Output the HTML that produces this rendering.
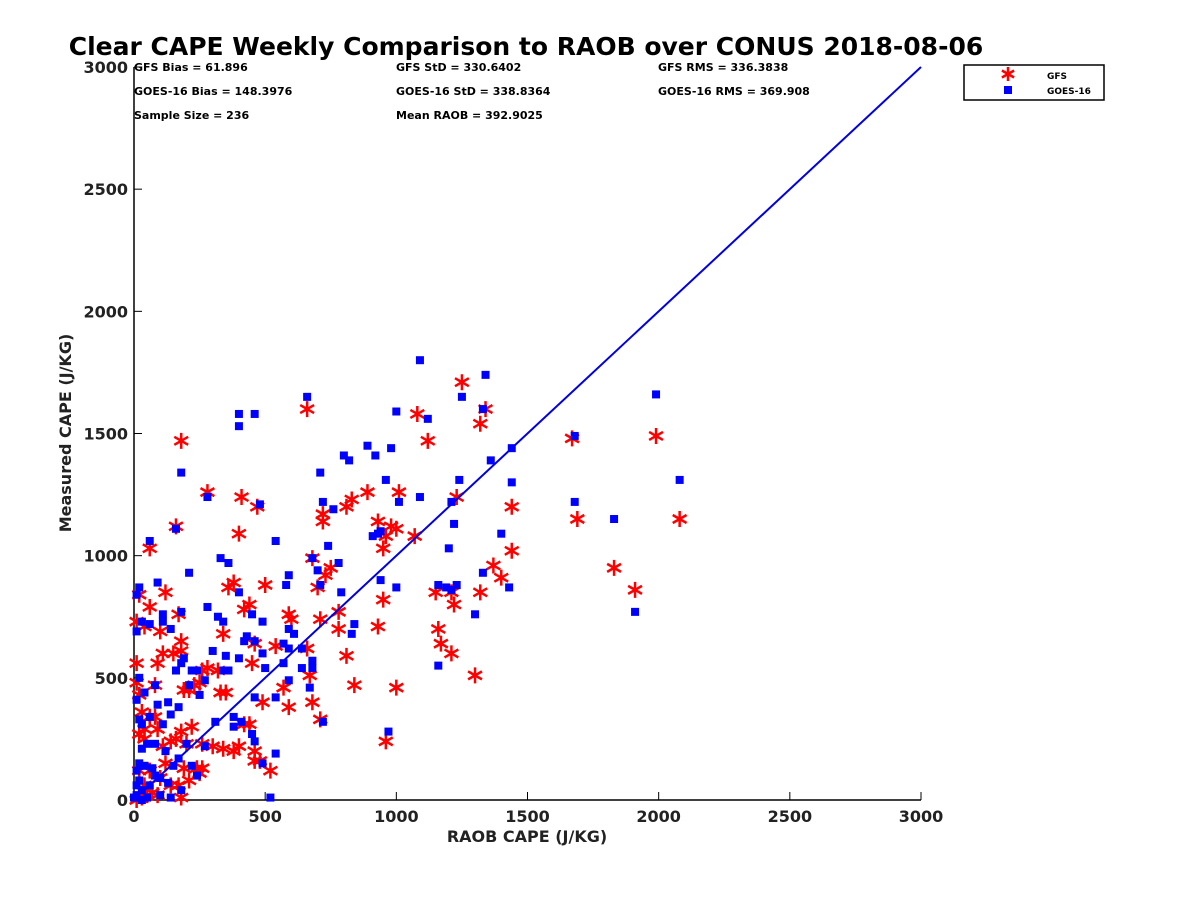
<!DOCTYPE html>
<html><head><meta charset="utf-8"><style>
body{margin:0;background:#fff;}
text{font-family:"DejaVu Sans","Liberation Sans",sans-serif;}
</style></head><body>
<svg id="chart" width="1200" height="900" xmlns="http://www.w3.org/2000/svg">
<rect width="1200" height="900" fill="#fff"/>
<text x="526" y="55" font-size="25" font-weight="bold" text-anchor="middle" fill="#000">Clear CAPE Weekly Comparison to RAOB over CONUS 2018-08-06</text>
<g font-size="11" font-weight="bold" fill="#000">
<text x="134" y="71">GFS Bias = 61.896</text>
<text x="396" y="71">GFS StD = 330.6402</text>
<text x="658" y="71">GFS RMS = 336.3838</text>
<text x="134" y="95">GOES-16 Bias = 148.3976</text>
<text x="396" y="95">GOES-16 StD = 338.8364</text>
<text x="658" y="95">GOES-16 RMS = 369.908</text>
<text x="134" y="119">Sample Size = 236</text>
<text x="396" y="119">Mean RAOB = 392.9025</text>
</g>
<g id="axes"></g>
<g id="marks"></g>
<g>
<rect x="964" y="65" width="140" height="35" fill="#fff" stroke="#000" stroke-width="1.5"/>
<g id="legstar"></g>
<rect x="1004" y="86" width="8" height="8" fill="#0000ff"/>
<text x="1047" y="79" font-size="9" font-weight="bold">GFS</text>
<text x="1047" y="94" font-size="9" font-weight="bold">GOES-16</text>
</g>
</svg>
<script>
const xTicks=[0,500,1000,1500,2000,2500,3000];
const yTicks=[0,500,1000,1500,2000,2500,3000];
const gfsX=[660,1250,1340,1320,1080,1120,180,1670,1990,2080,1690,280,410,470,160,60,890,1010,810,830,720,720,930,950,960,980,1000,1070,1230,1440,1440,1370,1400,1320,1150,1210,1220,1160,1170,1210,1300,1830,1910,930,950,1000,960,840,810,780,780,750,730,700,710,680,660,670,680,710,590,600,570,590,540,500,490,460,440,450,420,400,380,360,340,330,350,320,280,260,250,230,210,190,180,180,170,150,120,110,100,90,80,60,40,20,10,10,10,20,30,40,20,40,60,80,90,110,140,160,180,200,220,260,300,340,380,400,420,440,460,480,520,460,190,250,210,180,140,100,70,50,30,10,20,60,120,170,240,260,90,40];
const gfsY=[1600,1710,1600,1540,1580,1470,1470,1480,1490,1150,1150,1260,1240,1200,1120,1030,1260,1260,1200,1230,1140,1170,1140,1030,1080,1120,1110,1080,1240,1200,1020,960,910,850,850,850,800,700,640,600,510,950,860,710,820,460,240,470,590,700,770,950,920,870,740,990,620,510,400,330,760,740,460,380,630,880,400,640,800,560,780,1090,890,870,680,440,440,530,540,530,480,470,450,450,650,610,760,600,850,600,690,560,470,790,710,840,730,560,480,430,360,290,270,250,340,340,290,220,240,250,280,230,300,230,220,210,200,220,310,310,200,160,120,160,130,110,80,10,60,90,30,20,10,0,120,120,150,60,130,130,20,60];
const goesX=[1090,1340,1250,1330,660,400,460,400,1000,1120,1680,1990,890,920,980,800,820,960,1440,1360,1240,1440,2080,1680,1830,1090,1010,1210,1220,720,710,760,280,480,160,180,60,540,740,930,940,1400,1330,1200,1160,1190,1230,1210,1000,940,910,680,780,700,710,790,590,580,330,360,210,90,10,20,400,280,320,340,450,180,140,110,110,30,60,10,490,490,590,610,570,640,590,680,680,570,430,420,400,460,360,350,340,300,270,240,220,250,190,180,160,210,170,130,90,80,40,20,10,20,30,60,110,140,80,50,30,20,10,20,30,10,50,60,80,40,70,100,120,170,200,220,240,270,310,380,380,410,450,460,490,540,520,180,130,140,0,10,30,100,150,970,1160,1300,1910,1430,720,840,830,670,590,640,500,540,460];
const goesY=[1800,1740,1650,1600,1650,1580,1580,1530,1590,1560,1490,1660,1450,1410,1440,1410,1390,1310,1440,1390,1310,1300,1310,1220,1150,1240,1220,1220,1130,1220,1340,1190,1240,1210,1110,1340,1060,1060,1040,1090,1100,1090,930,1030,880,870,880,860,870,900,1080,990,970,940,880,850,920,880,990,970,930,890,840,870,850,790,750,730,760,770,700,760,730,730,720,690,730,600,700,680,640,620,620,570,540,560,670,650,580,650,530,590,530,610,490,530,530,430,580,560,530,470,380,400,390,470,440,500,410,330,310,340,310,350,230,230,210,150,120,80,40,20,10,60,100,140,130,90,200,170,230,140,100,220,320,340,300,320,270,240,150,190,10,40,70,10,10,60,0,20,140,280,550,760,770,870,320,720,680,460,490,540,540,420,420];
const NS='http://www.w3.org/2000/svg';
const X0=134,X1=921,Y0=800,Y1=67;
function sx(v){return X0+(v-0)/3000*(X1-X0);}
function sy(v){return Y0-(v-0)/3000*(Y0-Y1);}
function mk(tag,attrs,parent){const e=document.createElementNS(NS,tag);for(const k in attrs)e.setAttribute(k,attrs[k]);parent.appendChild(e);return e;}
const axes=document.getElementById('axes');
const xa=mk('line',{x1:X0,y1:Y0,x2:X1,y2:Y0,stroke:'#000','stroke-width':1.5},axes);


const ya=mk('line',{x1:X0,y1:Y0,x2:X0,y2:Y1,stroke:'#000','stroke-width':1.5},axes);


xTicks.forEach(t=>{
 const l=mk('line',{x1:sx(t),y1:Y0,x2:sx(t),y2:Y0-8,stroke:'#000','stroke-width':1},axes);
 
 
 const tx=mk('text',{x:sx(t),y:Y0+22,'font-size':16,'font-weight':'bold','text-anchor':'middle',fill:'#222'},axes);
 tx.textContent=t;
 
 
});
yTicks.forEach(t=>{
 const l=mk('line',{x1:X0,y1:sy(t),x2:X0+8,y2:sy(t),stroke:'#000','stroke-width':1},axes);
 
 
 const tx=mk('text',{x:X0-6,y:sy(t)+6,'font-size':16,'font-weight':'bold','text-anchor':'end',fill:'#222'},axes);
 tx.textContent=t;
 
 
});
const xt=mk('text',{x:527,y:842,'font-size':16,'font-weight':'bold','text-anchor':'middle',fill:'#222'},axes);
xt.textContent='RAOB CAPE (J/KG)';


const yt=mk('text',{x:0,y:0,'font-size':16,'font-weight':'bold','text-anchor':'middle',fill:'#222',transform:'translate(71,433) rotate(-90)'},axes);
yt.textContent='Measured CAPE (J/KG)';


const marks=document.getElementById('marks');
function star(cx,cy,r,parent){
 let d='';
 for(let i=0;i<3;i++){const a=Math.PI/2+i*Math.PI/3;const dx=r*Math.cos(a),dy=r*Math.sin(a);d+=`M${cx-dx},${cy-dy}L${cx+dx},${cy+dy}`;}
 return mk('path',{d:d,stroke:'#ff0000','stroke-width':2.5,fill:'none'},parent);
}
gfsX.forEach((v,i)=>{
 const s=star(sx(v),sy(gfsY[i]),8,marks);
 
 
});
const fit=mk('line',{x1:sx(30),y1:sy(30),x2:sx(3000),y2:sy(3000),stroke:'#0000e0','stroke-width':2},marks);


goesX.forEach((v,i)=>{
 const r=mk('rect',{x:sx(v)-4,y:sy(goesY[i])-4,width:8,height:8,fill:'#0000ff'},marks);
 
 
});
const ls=star(1008,74,7,document.getElementById('legstar'));


</script>
</body></html>
